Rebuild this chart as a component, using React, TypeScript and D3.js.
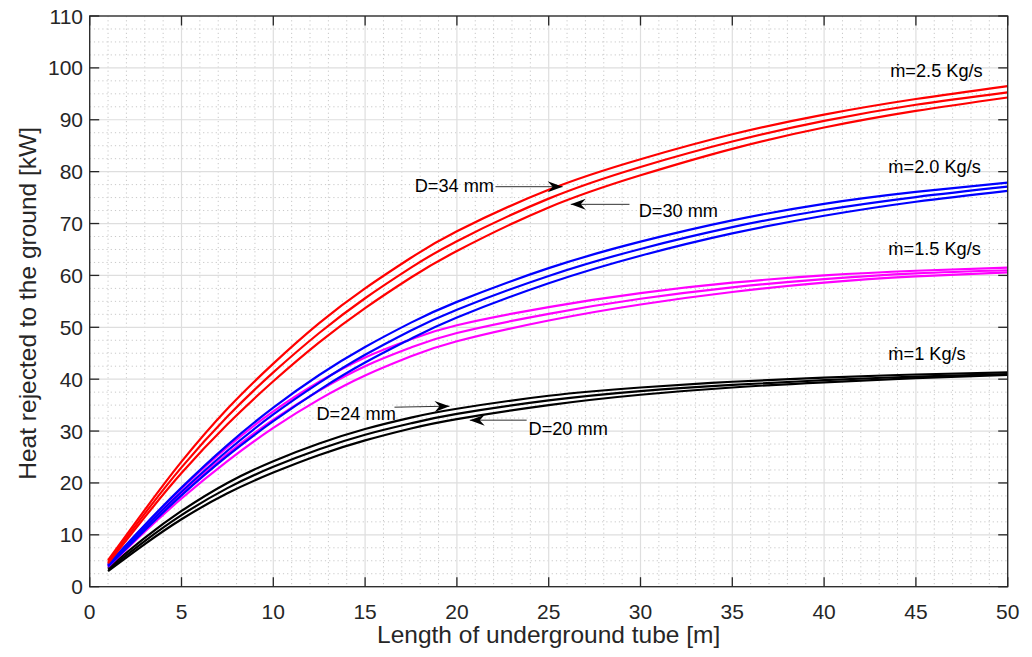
import React from "react";
import * as d3 from "d3";

// ---- data ----
const lengths = [1, 3, 5, 7.5, 10, 12.5, 15, 17.5, 20, 25, 30, 35, 40, 45, 50];

const red34 = [5.1, 14.8, 24.1, 34.3, 43.0, 50.8, 57.5, 63.4, 68.5, 76.5, 82.4, 87.2, 91.0, 94.0, 96.5];
const red32 = [4.8, 14.1, 23.0, 32.8, 41.3, 48.9, 55.6, 61.5, 66.6, 74.8, 80.9, 85.8, 89.8, 92.9, 95.3];
const red30 = [4.5, 13.4, 21.9, 31.3, 39.6, 47.1, 53.7, 59.6, 64.7, 73.1, 79.3, 84.4, 88.5, 91.7, 94.3];

const blue34 = [4.3, 11.9, 19.1, 27.3, 34.5, 40.8, 46.2, 50.9, 54.9, 61.4, 66.5, 70.6, 73.8, 76.1, 77.9];
const blue32 = [4.1, 11.4, 18.3, 26.2, 33.2, 39.3, 44.7, 49.4, 53.4, 59.9, 65.1, 69.3, 72.6, 75.1, 77.1];
const blue30 = [3.9, 10.9, 17.6, 25.2, 31.9, 37.9, 43.2, 47.8, 51.9, 58.5, 63.8, 68.1, 71.5, 74.2, 76.3];

const mag34 = [4.2, 11.8, 18.9, 26.9, 33.8, 39.5, 44.2, 47.7, 50.4, 53.9, 56.6, 58.6, 60.0, 60.9, 61.5];
const mag32 = [4.0, 11.2, 18.0, 25.6, 32.2, 37.8, 42.5, 46.1, 48.9, 52.6, 55.5, 57.7, 59.3, 60.4, 61.0];
const mag30 = [3.8, 10.6, 17.0, 24.2, 30.6, 36.1, 40.7, 44.4, 47.3, 51.3, 54.4, 56.8, 58.6, 59.8, 60.6];

const black24 = [3.6, 9.4, 14.6, 20.0, 24.2, 27.6, 30.4, 32.6, 34.3, 36.8, 38.4, 39.5, 40.3, 40.9, 41.3];
const black22 = [3.3, 8.8, 13.8, 19.0, 23.1, 26.5, 29.3, 31.5, 33.3, 35.9, 37.7, 38.9, 39.8, 40.5, 41.0];
const black20 = [3.0, 8.2, 13.0, 18.0, 22.0, 25.4, 28.2, 30.5, 32.3, 35.0, 37.0, 38.4, 39.4, 40.2, 40.8];

const seriesList = [
  { name: "1 Kg/s D=24", color: "#000000", values: black24 },
  { name: "1 Kg/s D=22", color: "#000000", values: black22 },
  { name: "1 Kg/s D=20", color: "#000000", values: black20 },
  { name: "1.5 Kg/s D=34", color: "#ff00ff", values: mag34 },
  { name: "1.5 Kg/s D=32", color: "#ff00ff", values: mag32 },
  { name: "1.5 Kg/s D=30", color: "#ff00ff", values: mag30 },
  { name: "2.0 Kg/s D=34", color: "#0000ff", values: blue34 },
  { name: "2.0 Kg/s D=32", color: "#0000ff", values: blue32 },
  { name: "2.0 Kg/s D=30", color: "#0000ff", values: blue30 },
  { name: "2.5 Kg/s D=34", color: "#ff0000", values: red34 },
  { name: "2.5 Kg/s D=32", color: "#ff0000", values: red32 },
  { name: "2.5 Kg/s D=30", color: "#ff0000", values: red30 },
];

const xTicks = [0, 5, 10, 15, 20, 25, 30, 35, 40, 45, 50];
const yTicks = [0, 10, 20, 30, 40, 50, 60, 70, 80, 90, 100, 110];

const xLabel = "Length of underground tube [m]";
const yLabel = "Heat rejected to the ground [kW]";

// flow labels: text, anchor (x, y in data units)
const flowLabels = [
  { text: "\u1E41=2.5 Kg/s", x: 43.6, y: 98.3 },
  { text: "\u1E41=2.0 Kg/s", x: 43.5, y: 79.7 },
  { text: "\u1E41=1.5 Kg/s", x: 43.5, y: 63.9 },
  { text: "\u1E41=1 Kg/s", x: 43.5, y: 43.7 },
];

// diameter arrows: label, label position, arrow from (tail) to (tip), data units
const arrows = [
  { text: "D=34 mm", tx: 17.7, ty: 76.1, x1: 22.1, y1: 77.1, x2: 25.76, y2: 77.1 },
  { text: "D=30 mm", tx: 29.9, ty: 71.3, x1: 29.4, y1: 73.7, x2: 26.2, y2: 73.7 },
  { text: "D=24 mm", tx: 12.35, ty: 32.1, x1: 16.6, y1: 34.6, x2: 19.6, y2: 34.8 },
  { text: "D=20 mm", tx: 23.9, ty: 29.3, x1: 23.8, y1: 32.1, x2: 20.7, y2: 32.1 },
];

const W = 1032;
const H = 657;
const M = { left: 89.7, right: 1007.7, top: 16, bottom: 586.7 };
const TXT = "#262626";
const FONT = "'Liberation Sans', Arial, Helvetica, sans-serif";

export default function App() {
  const x = d3.scaleLinear().domain([0, 50]).range([M.left, M.right]);
  const y = d3.scaleLinear().domain([0, 110]).range([M.bottom, M.top]);

  const line = d3
    .line<number>()
    .x((_, i) => x(lengths[i]))
    .y((d) => y(d))
    .curve(d3.curveNatural);

  const xMinor = d3.range(1, 50).filter((v) => v % 5 !== 0);
  const yMinor = d3.range(2.5, 110, 2.5).filter((v) => v % 10 !== 0);

  const tickLen = 9.5;

  const arrowHead = (x2: number, y2: number, x1: number, y1: number) => {
    const ang = Math.atan2(y2 - y1, x2 - x1);
    const L = 15, Wd = 5.5, notch = 10;
    const pts: [number, number][] = [
      [0, 0],
      [-L, -Wd],
      [-notch, 0],
      [-L, Wd],
    ];
    const c = Math.cos(ang), s = Math.sin(ang);
    return pts.map(([px, py]) => [x2 + px * c - py * s, y2 + px * s + py * c].join(",")).join(" ");
  };

  return (
    <svg
      width={W}
      height={H}
      style={{ position: "absolute", left: 0, top: 0, background: "#ffffff" }}
      fontFamily={FONT}
    >
      <rect x={0} y={0} width={W} height={H} fill="#ffffff" />
      {/* minor grid */}
      <g stroke="#c8c8c8" strokeWidth={1} strokeDasharray="1.2,3" fill="none">
        {xMinor.map((v) => (
          <line key={"xm" + v} x1={x(v)} x2={x(v)} y1={M.top} y2={M.bottom} />
        ))}
        {yMinor.map((v) => (
          <line key={"ym" + v} x1={M.left} x2={M.right} y1={y(v)} y2={y(v)} />
        ))}
      </g>
      {/* major grid */}
      <g stroke="#dedede" strokeWidth={1.2}>
        {xTicks.map((v) => (
          <line key={"xg" + v} x1={x(v)} x2={x(v)} y1={M.top} y2={M.bottom} />
        ))}
        {yTicks.map((v) => (
          <line key={"yg" + v} x1={M.left} x2={M.right} y1={y(v)} y2={y(v)} />
        ))}
      </g>

      {/* curves */}
      <g fill="none" strokeWidth={2.2} strokeLinejoin="round">
        {seriesList.map((s) => (
          <path key={s.name} d={line(s.values) || ""} stroke={s.color} />
        ))}
      </g>

      {/* axes box and ticks */}
      <g stroke={TXT} strokeWidth={1.3}>
        <rect x={M.left} y={M.top} width={M.right - M.left} height={M.bottom - M.top} fill="none" />
        {xTicks.map((v) => (
          <g key={"xt" + v}>
            <line x1={x(v)} x2={x(v)} y1={M.bottom} y2={M.bottom - tickLen} />
            <line x1={x(v)} x2={x(v)} y1={M.top} y2={M.top + tickLen} />
          </g>
        ))}
        {yTicks.map((v) => (
          <g key={"yt" + v}>
            <line x1={M.left} x2={M.left + tickLen} y1={y(v)} y2={y(v)} />
            <line x1={M.right} x2={M.right - tickLen} y1={y(v)} y2={y(v)} />
          </g>
        ))}
      </g>

      {/* tick labels */}
      <g fill={TXT} fontSize={21}>
        {xTicks.map((v) => (
          <text key={"xl" + v} x={x(v)} y={619} textAnchor="middle">
            {v}
          </text>
        ))}
        {yTicks.map((v) => (
          <text key={"yl" + v} x={83} y={y(v) + 7.5} textAnchor="end">
            {v}
          </text>
        ))}
      </g>

      {/* axis labels */}
      <text x={(M.left + M.right) / 2} y={643} textAnchor="middle" fontSize={24.5} fill={TXT}>
        {xLabel}
      </text>
      <text
        transform={`translate(36, ${(M.top + M.bottom) / 2 + 2}) rotate(-90)`}
        textAnchor="middle"
        fontSize={24.5}
        fill={TXT}
      >
        {yLabel}
      </text>

      {/* flow labels */}
      <g fontSize={18.2} fill="#000">
        {flowLabels.map((f) => (
          <text key={f.text} x={x(f.x)} y={y(f.y)}>
            {f.text}
          </text>
        ))}
      </g>

      {/* diameter arrows */}
      <g>
        {arrows.map((a) => (
          <g key={a.text}>
            <line
              x1={x(a.x1)}
              y1={y(a.y1)}
              x2={x(a.x2)}
              y2={y(a.y2)}
              stroke="#333"
              strokeWidth={1}
            />
            <polygon points={arrowHead(x(a.x2), y(a.y2), x(a.x1), y(a.y1))} fill="#000" />
            <text x={x(a.tx)} y={y(a.ty)} fontSize={18.2} fill="#000">
              {a.text}
            </text>
          </g>
        ))}
      </g>
    </svg>
  );
}
